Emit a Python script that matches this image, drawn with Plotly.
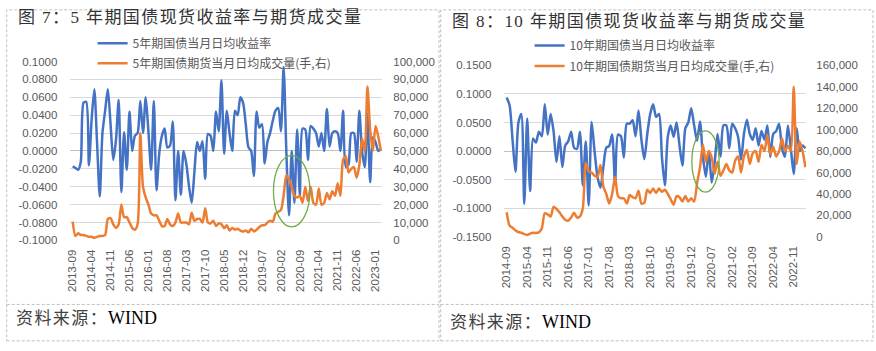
import plotly.graph_objects as go
import pandas as pd

W, H = 876, 351

# ---------------- data ----------------
months5 = [p.strftime('%Y-%m') for p in pd.period_range('2013-09', periods=115, freq='M')]
months10 = [p.strftime('%Y-%m') for p in pd.period_range('2014-09', periods=103, freq='M')]

yield5 = [-0.017, -0.019, -0.021, -0.012, 0.054, 0.055, -0.016, 0.035, 0.069, 0.010,
          -0.051, 0.020, 0.045, 0.069, 0.030, -0.010, 0.012, 0.057, -0.046, 0.021,
          -0.021, 0.044, 0.000, 0.017, 0.020, 0.056, 0.020, 0.060, 0.022, -0.021,
          0.056, -0.044, -0.003, 0.017, 0.025, 0.004, 0.006, 0.033, -0.055, 0.000,
          -0.049, 0.000, -0.014, -0.039, -0.058, -0.024, 0.010, 0.000, 0.011, -0.031,
          0.019, 0.017, 0.000, 0.044, 0.022, 0.079, -0.003, 0.045, 0.020, 0.000,
          0.045, 0.040, 0.060, 0.054, 0.030, 0.004, 0.000, -0.028, 0.044, 0.026,
          0.030, -0.014, 0.010, 0.020, 0.034, 0.045, 0.048, 0.022, 0.094, 0.000,
          -0.072, 0.000, -0.058, 0.024, -0.050, 0.025, 0.024, -0.010, 0.028, 0.025,
          0.020, 0.005, 0.020, 0.000, 0.047, 0.005, 0.020, 0.022, 0.020, 0.000,
          0.045, -0.018, -0.015, 0.020, 0.020, -0.012, 0.045, 0.000, -0.018, 0.042,
          -0.035, 0.015, 0.010, 0.000, 0.002]

vol5 = [10500, 2500, 4000, 3000, 3000, 2500, 2000, 2000, 1500, 2000,
        2500, 2500, 3000, 12000, 12500, 9000, 7000, 9000, 20000, 13000,
        13000, 10000, 7000, 6000, 9000, 60000, 30000, 24000, 20000, 15000,
        14000, 14000, 11000, 8000, 8000, 12000, 9000, 8000, 10000, 15000,
        10000, 10000, 10000, 9000, 15500, 11000, 12000, 12000, 10000, 18000,
        10000, 9500, 11000, 8000, 9500, 9000, 6800, 8500, 5500, 7000,
        6000, 6500, 5500, 5000, 5500, 4500, 6500, 5000, 6000, 7500,
        8500, 8500, 10000, 11000, 10500, 15000, 16000, 17000, 25000, 36500,
        34000, 30000, 25000, 24000, 25000, 21000, 30000, 22000, 30000, 21000,
        20000, 29000, 20000, 21000, 26500, 23000, 27500, 25000, 32000, 25000,
        45000, 47000, 38000, 40000, 41000, 35000, 42000, 57000, 50000, 86000,
        62000, 50000, 64000, 58000, 50000]

yield10 = [0.094, 0.080, 0.020, -0.036, 0.050, 0.065, -0.092, 0.057, -0.070, 0.022,
           0.015, 0.034, 0.026, 0.082, 0.029, 0.065, 0.035, -0.019, 0.026, -0.028,
           0.010, 0.017, 0.034, 0.006, 0.004, 0.034, -0.060, 0.017, -0.095, 0.051,
           0.000, -0.045, -0.064, -0.028, 0.006, 0.009, 0.029, -0.059, 0.029, 0.026,
           -0.011, 0.048, 0.048, 0.054, 0.026, 0.071, 0.020, -0.014, 0.030, 0.065,
           0.082, 0.060, 0.065, -0.010, -0.060, 0.025, 0.045, 0.025, 0.050, 0.010,
           -0.025, 0.040, 0.050, 0.075, 0.045, 0.018, 0.052, -0.010, -0.045, 0.000,
           -0.055, -0.020, 0.030, -0.010, 0.045, 0.045, 0.005, 0.048, 0.040, 0.025,
           -0.015, 0.030, 0.055, 0.030, 0.020, 0.040, 0.010, 0.035, 0.020, 0.045,
           -0.010, 0.030, 0.035, 0.048, 0.005, -0.010, 0.045, 0.005, -0.040, 0.040,
           0.000, 0.010, 0.005]

vol10 = [23000, 10500, 8500, 6000, 4500, 3800, 2500, 1800, 3000, 3800,
         3500, 4200, 8000, 22000, 21000, 19000, 28000, 26000, 23000, 19000,
         16000, 15000, 18000, 22500, 18000, 19000, 27000, 69000, 61000, 60000,
         57000, 56000, 67000, 47000, 40000, 31000, 40000, 56000, 38000, 36000,
         36000, 31000, 39000, 37000, 36000, 43000, 31000, 32000, 44000, 41000,
         45000, 41000, 45000, 42000, 44000, 40000, 35000, 30000, 38000, 37000,
         33000, 38000, 33000, 36000, 33000, 50000, 65000, 86000, 70000, 80000,
         74000, 59000, 70000, 57000, 62000, 68000, 62000, 60000, 71000, 75000,
         60000, 75000, 81000, 68000, 78000, 80000, 70000, 86000, 80000, 95000,
         77000, 84000, 75000, 80000, 92000, 80000, 85000, 80000, 140000, 68000,
         89000, 80000, 65000]

yt5 = [-0.10, -0.08, -0.06, -0.04, -0.02, 0.0, 0.02, 0.04, 0.06, 0.08, 0.10]
vt5 = [0, 10000, 20000, 30000, 40000, 50000, 60000, 70000, 80000, 90000, 100000]
yt10 = [-0.15, -0.10, -0.05, 0.0, 0.05, 0.10, 0.15]
vt10 = [0, 20000, 40000, 60000, 80000, 100000, 120000, 140000, 160000]

# ---------------- helpers ----------------
def px(x):
    return x / W

def py(y):
    return 1 - y / H

BLUE = '#4472C4'
ORANGE = '#ED7D31'
GRID = '#D9D9D9'
TXT = '#595959'
TICKFONT = dict(family='Liberation Sans, Arial', size=11.5, color=TXT)
LEGFONT = dict(family='Noto Sans CJK SC', size=12, color=TXT)
HS = '\u200a'


def spaced(s):
    return HS.join(list(s))


def line(c):
    return dict(color=c, width=2.5, shape='spline', smoothing=0.7)

fig = go.Figure()
fig.add_trace(go.Scatter(x=months5, y=yield5, mode='lines', name='5年期国债当月日均收益率',
                         line=line(BLUE), xaxis='x', yaxis='y', legend='legend'))
fig.add_trace(go.Scatter(x=months5, y=vol5, mode='lines', name='5年期国债期货当月日均成交量(手,右)',
                         line=line(ORANGE), xaxis='x', yaxis='y2', legend='legend3'))
fig.add_trace(go.Scatter(x=months10, y=yield10, mode='lines', name='10年期国债当月日均收益率',
                         line=line(BLUE), xaxis='x2', yaxis='y3', legend='legend2'))
fig.add_trace(go.Scatter(x=months10, y=vol10, mode='lines', name='10年期国债期货当月日均成交量(手,右)',
                         line=line(ORANGE), xaxis='x2', yaxis='y4', legend='legend4'))

# plot area pixel boxes
L = dict(x0=66.7, x1=380.0, y0=57.5, y1=242.7)
R = dict(x0=502.7, x1=806.0, y0=61.5, y1=239.0)

xcommon = dict(type='category', showgrid=False, showline=False, zeroline=False,
               tickangle=-90, tickfont=TICKFONT, ticks='', ticklabelstandoff=6)
ycommon = dict(showgrid=True, gridcolor=GRID, gridwidth=1, showline=False, ticks='',
               tickfont=TICKFONT, zeroline=True, zerolinecolor='#BFBFBF', zerolinewidth=1)

def leg(x, y):
    return dict(x=px(x), y=py(y), xanchor='left', yanchor='middle', bgcolor='rgba(0,0,0,0)',
                font=LEGFONT, itemwidth=30, borderwidth=0)

fig.update_layout(
    width=W, height=H, margin=dict(l=0, r=0, t=0, b=0),
    paper_bgcolor='white', plot_bgcolor='rgba(0,0,0,0)',
    xaxis=dict(xcommon, domain=[px(L['x0']), px(L['x1'])], anchor='y',
               range=[-0.85, 114.48], tickvals=months5[::7], ticktext=months5[::7]),
    yaxis=dict(ycommon, domain=[py(L['y1']), py(L['y0'])], anchor='x', range=[-0.1, 0.1],
               tickvals=yt5, ticktext=[f'{v:.4f}' for v in yt5], ticklabelstandoff=12),
    yaxis2=dict(overlaying='y', side='right', anchor='x', range=[0, 100000], showgrid=False,
                zeroline=False, showline=False, ticks='', tickfont=TICKFONT,
                tickvals=vt5, ticktext=[f'{v:,}' for v in vt5], ticklabelstandoff=10),
    xaxis2=dict(xcommon, domain=[px(R['x0']), px(R['x1'])], anchor='y3',
                range=[-0.78, 102.3], tickvals=months10[::7], ticktext=months10[::7]),
    yaxis3=dict(ycommon, domain=[py(R['y1']), py(R['y0'])], anchor='x2', range=[-0.15, 0.15],
                tickvals=yt10, ticktext=[f'{v:.4f}' for v in yt10], ticklabelstandoff=12),
    yaxis4=dict(overlaying='y3', side='right', anchor='x2', range=[0, 160000], showgrid=False,
                zeroline=False, showline=False, ticks='', tickfont=TICKFONT,
                tickvals=vt10, ticktext=[f'{v:,}' for v in vt10], ticklabelstandoff=9),
    legend=leg(89, 38.5),
    legend3=leg(89, 59.3),
    legend2=leg(528, 41.0),
    legend4=leg(528, 62.0),
    showlegend=True,
)

shapes = []
dash = dict(color='#BFBFBF', width=1, dash='3px,2px')
for (a, b) in [(2.7, 437.0), (438.7, 873.0)]:
    shapes.append(dict(type='rect', xref='paper', yref='paper', x0=px(a), x1=px(b),
                       y0=py(346.7), y1=py(4), line=dash, layer='above'))
    shapes.append(dict(type='line', xref='paper', yref='paper', x0=px(a), x1=px(b),
                       y0=py(309), y1=py(309), line=dash, layer='above'))
# green ellipses
for (cx, cy, rx, ry) in [(289.0, 191.7, 18.3, 37.0), (704.7, 161.0, 13.7, 31.7)]:
    shapes.append(dict(type='circle', xref='paper', yref='paper', x0=px(cx - rx), x1=px(cx + rx),
                       y0=py(cy + ry), y1=py(cy - ry), line=dict(color='#70AD47', width=1.3),
                       fillcolor='rgba(0,0,0,0)', layer='above'))
fig.update_layout(shapes=shapes)

TITLEFONT = dict(family='Liberation Serif, Noto Sans CJK SC', size=17, color='#333333')
ann = []
ann.append(dict(text=spaced('图 7：5 年期国债现货收益率与期货成交量'), x=px(12), y=py(12), xref='paper', yref='paper',
                xanchor='left', yanchor='middle', showarrow=False, font=TITLEFONT))
ann.append(dict(text=spaced('图 8：10 年期国债现货收益率与期货成交量'), x=px(448), y=py(16.5), xref='paper', yref='paper',
                xanchor='left', yanchor='middle', showarrow=False, font=TITLEFONT))
SRCFONT = dict(family='Liberation Serif, Noto Sans CJK SC', size=17, color='#404040')
for (sx, sy) in [(10.0, 323.0), (446.0, 327.0)]:
    ann.append(dict(text=spaced('资料来源：') + HS + '<span style="color:#000000;font-size:18px">WIND</span>',
                    x=px(sx), y=py(sy), xref='paper', yref='paper', xanchor='left', yanchor='middle',
                    showarrow=False, font=SRCFONT))
fig.update_layout(annotations=ann)

fig.write_html('out.html')
